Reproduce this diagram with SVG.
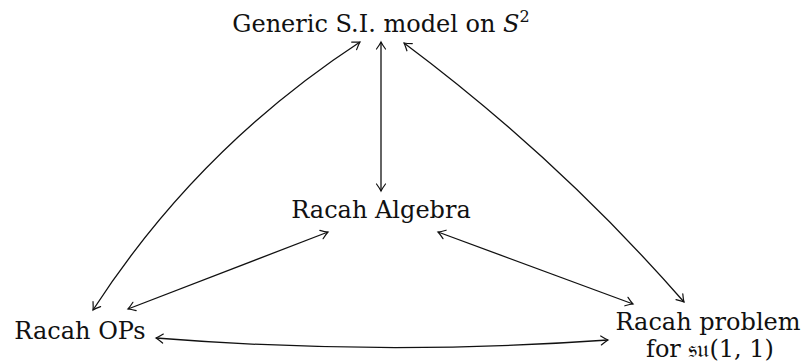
<svg xmlns="http://www.w3.org/2000/svg" width="804" height="364" viewBox="0 0 804 364">
<style>
text{font-family:"DejaVu Serif","Liberation Serif",serif;font-size:24px;fill:#111}
.c{fill:none;stroke:#111;stroke-width:1.3;marker-start:url(#ah);marker-end:url(#ah)}
</style>
<defs>
<marker id="ah" viewBox="-10 -6 12 12" refX="0" refY="0" markerWidth="12" markerHeight="12" markerUnits="userSpaceOnUse" orient="auto-start-reverse">
<path d="M-7,-4.5 Q-2.5,-1.2 0,0 Q-2.5,1.2 -7,4.5" fill="none" stroke="#111" stroke-width="1.2" stroke-linecap="round"/>
</marker>
</defs>
<rect width="804" height="364" fill="#fff"/>
<g id="n-generic"><text x="381" y="32" text-anchor="middle">Generic S.I. model on <tspan font-style="italic">S</tspan><tspan font-size="16" dy="-10">2</tspan></text></g>
<g id="n-algebra"><text x="381" y="218" text-anchor="middle">Racah Algebra</text></g>
<g id="n-ops"><text x="80" y="339" text-anchor="middle">Racah OPs</text></g>
<g id="n-problem"><text text-anchor="middle" font-size="23"><tspan x="708" y="330">Racah problem</tspan><tspan x="710" y="357">for 𝔰𝔲(1, 1)</tspan></text></g>
<g id="connectors">
<path class="c" d="M381,42 L381,191"/>
<path class="c" d="M128,309 L328,232"/>
<path class="c" d="M438,232 L633,304"/>
<path class="c" d="M93,310 Q198,148 360,42"/>
<path class="c" d="M404,43 Q558,158 684,302"/>
<path class="c" d="M156,338 Q382,356 608,340"/>
</g>
</svg>
